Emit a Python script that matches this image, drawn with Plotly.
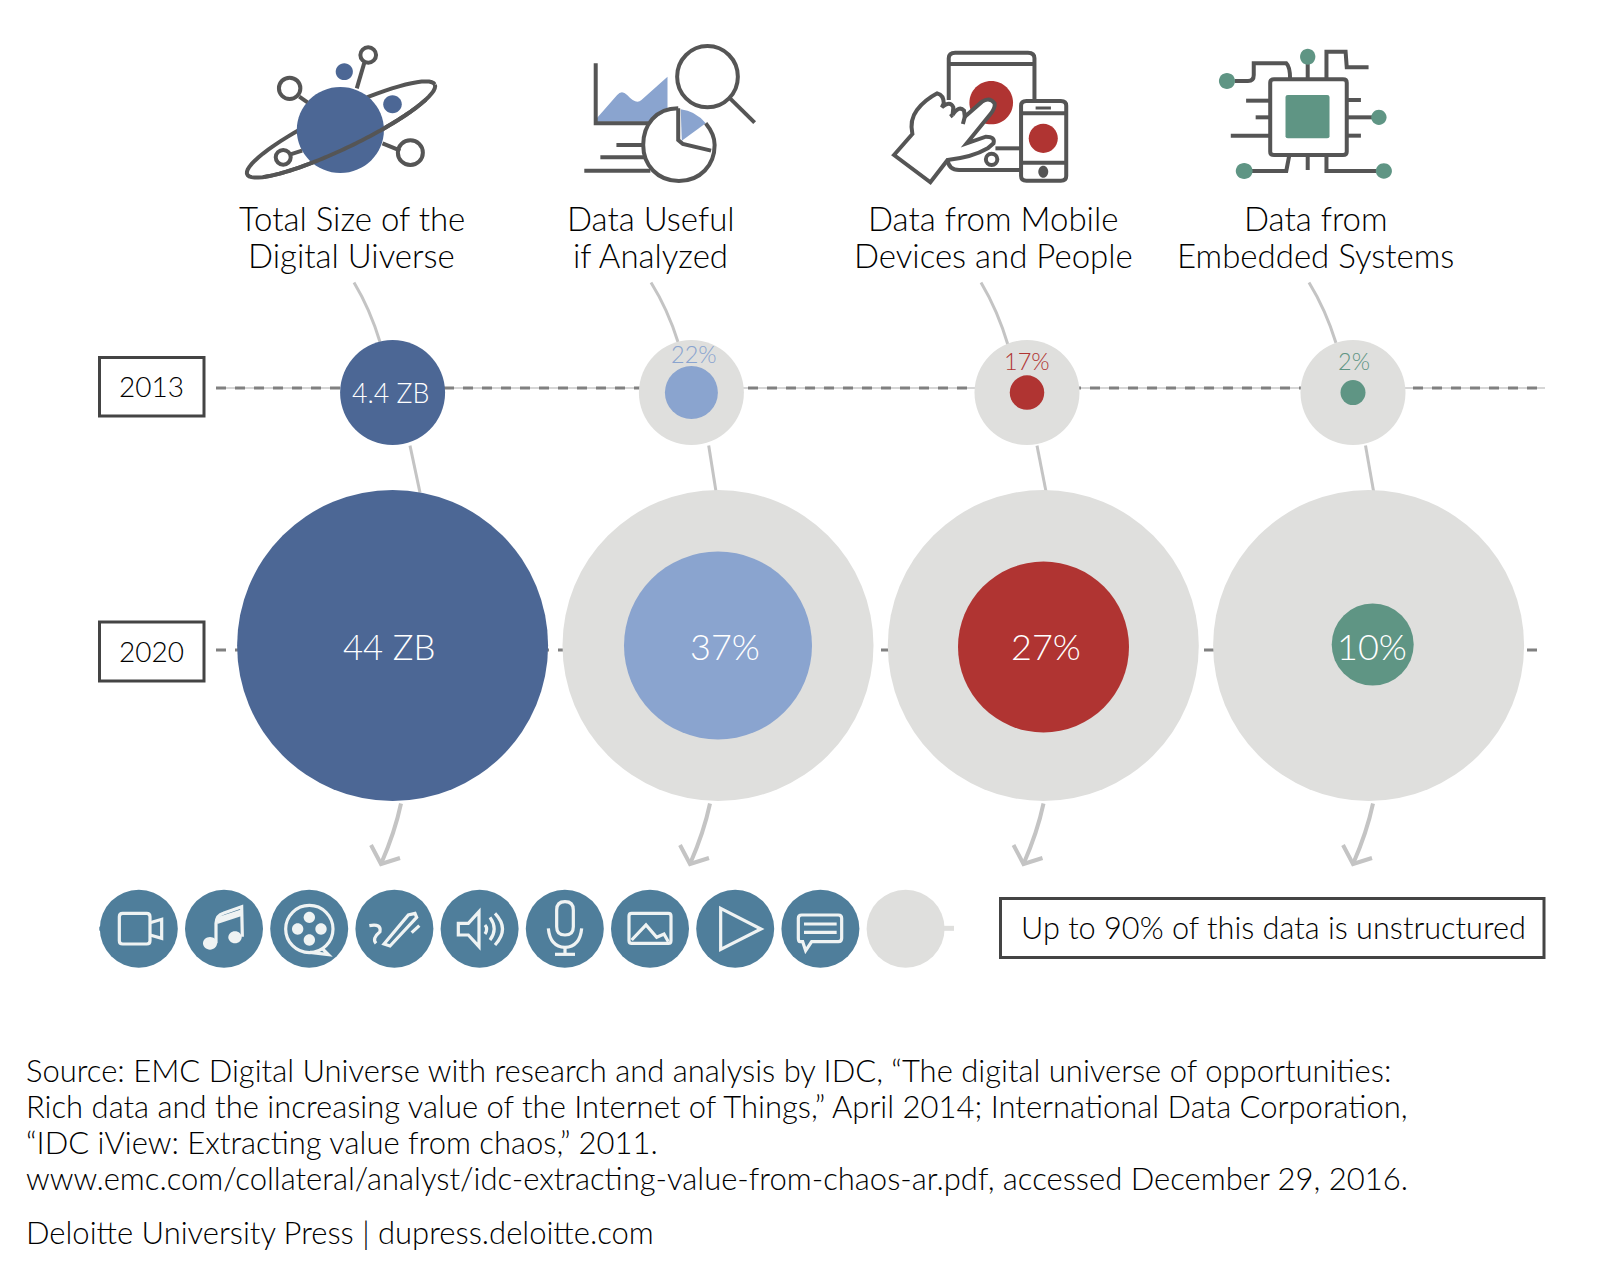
import re

import numpy as np
import plotly.graph_objects as go

# data
titles = [
    ["Total Size of the", "Digital Uiverse"],
    ["Data Useful", "if Analyzed"],
    ["Data from Mobile", "Devices and People"],
    ["Data from", "Embedded Systems"],
]
years = ["2013", "2020"]
size_zb = [4.4, 44]
share_2013 = [22, 17, 2]
share_2020 = [37, 27, 10]
note = "Up to 90% of this data is unstructured"
source_lines = [
    "Source: EMC Digital Universe with research and analysis by IDC, “The digital universe of opportunities:",
    "Rich data and the increasing value of the Internet of Things,” April 2014; International Data Corporation,",
    "“IDC iView: Extracting value from chaos,” 2011.",
    "www.emc.com/collateral/analyst/idc-extracting-value-from-chaos-ar.pdf, accessed December 29, 2016.",
]
credit = "Deloitte University Press | dupress.deloitte.com"

# layout of the page, in pixels
W, H = 1599, 1271
FONT = "Lato"
DARK = "#555555"
BOX = "#444444"
NAVY = "#4c6795"
LIGHT_BLUE = "#8aa4cf"
RED = "#b03432"
GREEN = "#5f9584"
GREY = "#dfdfdd"
TEAL = "#4f7e9b"
ICON_WHITE = "#eff3f3"
CONNECT = "#c4c4c4"
share_colors = [LIGHT_BLUE, RED, GREEN]

x_2013 = [392.6, 691.4, 1027, 1353]
x_2020 = [392.6, 718, 1043.3, 1368.6]
inner_x_2020 = [718, 1043.5, 1372.7]
inner_y_2020 = [645.5, 647, 644.5]
y_2013, y_2020 = 392.6, 645.5
inner_diam_2013 = [53, 34.5, 25]
inner_diam_2020 = [188, 171, 82]

CROP1 = (220, 20, 2.8, 3)
CROP2 = (850, 20, 2.613, 3)
CROP3 = (80, 860, 3, 3)
CROP4 = (560, 860, 3, 3)


def place(d, crop):
    ox, oy, sx, sy = crop
    i = [0]

    def conv(m):
        v = float(m.group())
        k = i[0]
        i[0] += 1
        return f"{ox + v / sx:.2f}" if k % 2 == 0 else f"{oy + v / sy:.2f}"

    return re.sub(r"-?\d+\.?\d*", conv, d)


def ell(cx, cy, rx, ry):
    k = 0.5523
    return (
        f"M {cx - rx} {cy} C {cx - rx} {cy - k * ry} {cx - k * rx} {cy - ry} {cx} {cy - ry} "
        f"C {cx + k * rx} {cy - ry} {cx + rx} {cy - k * ry} {cx + rx} {cy} "
        f"C {cx + rx} {cy + k * ry} {cx + k * rx} {cy + ry} {cx} {cy + ry} "
        f"C {cx - k * rx} {cy + ry} {cx - rx} {cy + k * ry} {cx - rx} {cy} Z"
    )


def rrect(x0, y0, x1, y1, r):
    return (
        f"M {x0 + r} {y0} L {x1 - r} {y0} Q {x1} {y0} {x1} {y0 + r} L {x1} {y1 - r} Q {x1} {y1} {x1 - r} {y1} "
        f"L {x0 + r} {y1} Q {x0} {y1} {x0} {y1 - r} L {x0} {y0 + r} Q {x0} {y0} {x0 + r} {y0} Z"
    )


fig = go.Figure()


def icon(d, crop=None, color=DARK, width=4, fill=None, layer="above"):
    if crop is not None:
        d = place(d, crop)
    fig.add_shape(
        type="path", path=d, xref="x", yref="y", layer=layer,
        line=dict(color=color, width=width),
        fillcolor=fill if fill else "rgba(0,0,0,0)",
    )


def solid(d, crop, fill):
    fig.add_shape(
        type="path", path=place(d, crop), xref="x", yref="y", layer="above",
        line=dict(width=0), fillcolor=fill,
    )


def label(text, x, y, size, color="#000000", anchor="center", weight=300):
    fig.add_annotation(
        x=x, y=y, text=text, showarrow=False, xref="x", yref="y",
        xanchor=anchor, yanchor="middle",
        font=dict(family=FONT, size=size, color=color, weight=weight),
    )


def ring_path(t0, t1, n=70):
    cx, cy, a, b, th = 341, 129.5, 104, 19, np.radians(-25.6)
    t = np.linspace(t0, t1, n)
    xs = cx + a * np.cos(t) * np.cos(th) - b * np.sin(t) * np.sin(th)
    ys = cy + a * np.cos(t) * np.sin(th) + b * np.sin(t) * np.cos(th)
    return "M " + " L ".join(f"{px:.2f} {py:.2f}" for px, py in zip(xs, ys))


# dashed year lines
fig.add_trace(go.Scatter(x=[216, 1545], y=[388, 388], mode="lines", hoverinfo="skip",
                         line=dict(color="#c8c8c8", width=1.5)))
fig.add_trace(go.Scatter(x=[216, 1545], y=[388, 388], mode="lines", hoverinfo="skip",
                         line=dict(color="#808080", width=3, dash="10px,9px")))
fig.add_trace(go.Scatter(x=[216, 1540], y=[650, 650], mode="lines", hoverinfo="skip",
                         line=dict(color="#808080", width=3, dash="10px,9px")))

# connectors and arrows
connect_top = [(354, 282.5, 380, 342), (651, 282.5, 678, 342), (981, 282.5, 1008, 345), (1309, 282.5, 1336, 343)]
connect_mid = [(410, 445.6, 420, 492.6), (708.7, 445.6, 716, 491.5), (1037, 445.6, 1046, 491.5),
               (1365.5, 445.6, 1373.6, 491.5)]
arrow_x = [401, 710, 1043.5, 1373]
for x0, y0, x1, y1 in connect_top + connect_mid:
    qx = (x0 + x1) / 2 + (x1 - x0) * 0.12 * (1 if y0 < 400 else -0.5)
    qy = (y0 + y1) / 2 - (y1 - y0) * 0.05
    icon(f"M {x0} {y0} Q {qx} {qy} {x1} {y1}", color=CONNECT, width=3, layer="below")
for x0 in arrow_x:
    x1, y1 = x0 - 20, 864
    icon(f"M {x0} 803.5 Q {x0 - 6} 832 {x1} {y1}", color=CONNECT, width=4, layer="below")
    icon(f"M {x1 - 10} {y1 - 19} L {x1} {y1} L {x1 + 19} {y1 - 6}", color=CONNECT, width=4, layer="below")

# bubbles
fig.add_trace(go.Scatter(
    x=x_2013[:1] + x_2020[:1], y=[y_2013, y_2020], mode="markers", hoverinfo="skip",
    marker=dict(color=NAVY, size=[105, 311], opacity=1, line=dict(width=0)),
))
fig.add_trace(go.Scatter(
    x=x_2013[1:], y=[y_2013] * 3, mode="markers", hoverinfo="skip",
    marker=dict(color=GREY, size=105, opacity=1, line=dict(width=0)),
))
fig.add_trace(go.Scatter(
    x=x_2020[1:], y=[y_2020] * 3, mode="markers", hoverinfo="skip",
    marker=dict(color=GREY, size=311, opacity=1, line=dict(width=0)),
))
fig.add_trace(go.Scatter(
    x=x_2013[1:], y=[y_2013] * 3, mode="markers", hoverinfo="skip",
    marker=dict(color=share_colors, size=inner_diam_2013, opacity=1, line=dict(width=0)),
))
fig.add_trace(go.Scatter(
    x=inner_x_2020, y=inner_y_2020, mode="markers", hoverinfo="skip",
    marker=dict(color=share_colors, size=inner_diam_2020, opacity=1, line=dict(width=0)),
))

# bottom row of media circles
row_x = [138.8 + 85.2 * i for i in range(10)]
fig.add_trace(go.Scatter(
    x=row_x, y=[928.7] * 10, mode="markers", hoverinfo="skip",
    marker=dict(color=[TEAL] * 9 + [GREY], size=78, opacity=1, line=dict(width=0)),
))
icon("M 1150 205 L 1182 205", CROP4, color=GREY, width=5)
icon("M 58 206 L 66 206", CROP3, color=TEAL, width=4)

# planet icon
icon(ring_path(0, 2 * np.pi))
solid(ell(337, 330, 122, 129), CROP1, NAVY)
icon(ring_path(0.17 * np.pi, 0.83 * np.pi))
solid(ell(348, 155, 24, 25), CROP1, NAVY)
solid(ell(483, 253, 26, 27), CROP1, NAVY)
for d in ["M 405 125 L 383 205", "M 222 230 L 245 247", "M 455 370 L 505 392", "M 197 403 L 230 392"]:
    icon(d, CROP1)
icon(ell(415, 105, 22, 23), CROP1)
icon(ell(195, 205, 30, 32), CROP1)
icon(ell(533, 398, 35, 37), CROP1)
icon(ell(177, 412, 21, 22), CROP1)

# analytics icon
solid("M 1055 295 L 1112 225 Q 1125 208 1140 225 Q 1165 255 1180 240 L 1253 170 L 1253 270 L 1205 305 L 1055 305 Z",
      CROP1, LIGHT_BLUE)
solid("M 1290 268 Q 1330 272 1360 310 L 1293 362 Z", CROP1, LIGHT_BLUE)
icon("M 1052 130 L 1052 310 L 1200 310", CROP1)
icon(ell(1365, 170, 85, 92), CROP1)
icon("M 1428 235 L 1497 308", CROP1)
icon("M 1283 265 C 1220 265 1185 315 1185 375 C 1185 435 1225 483 1285 483 C 1345 483 1385 435 1385 375 "
     "C 1385 350 1375 330 1360 310", CROP1)
icon("M 1283 265 L 1283 360 L 1296 372 L 1375 392", CROP1)
icon("M 1110 375 L 1185 375", CROP1)
icon("M 1065 412 L 1190 412", CROP1)
icon("M 1020 452 L 1205 452", CROP1)

# devices icon
icon("M 258 240 L 258 115 Q 258 98 275 98 L 465 98 Q 482 98 482 115 L 482 245", CROP2)
icon("M 258 132 L 482 132", CROP2)
icon("M 255 420 Q 258 450 285 450 L 447 450", CROP2)
icon("M 380 385 L 447 385", CROP2)
icon(ell(370, 418, 15, 17), CROP2)
solid(ell(369, 248, 57, 65), CROP2, RED)
icon(rrect(447, 243, 565, 482, 14), CROP2)
icon("M 447 280 L 565 280", CROP2)
icon("M 447 428 L 565 428", CROP2)
icon("M 485 264 L 525 264", CROP2, width=3)
solid(ell(505, 355, 38, 44), CROP2, RED)
solid(ell(505, 455, 13, 18), CROP2, DARK)
icon("M 115 405 L 163 342 Q 155 300 175 270 Q 195 240 228 220 Q 245 225 245 250 L 240 262 Q 262 240 270 262 L 268 285 "
     "Q 285 255 298 272 L 300 290 L 345 245 Q 365 230 378 250 Q 380 265 365 285 L 305 370 L 355 350 Q 380 350 375 370 "
     "L 360 385 Q 320 412 255 420 L 210 487 Z", CROP2, fill="#ffffff")
icon("M 268 285 L 262 290", CROP2)
icon("M 300 290 L 295 312", CROP2)

# chip icon
for d in [
    "M 1005 183 L 1040 183 Q 1055 183 1055 165 L 1055 130 L 1140 130 Q 1150 140 1150 178",
    "M 1196 130 L 1196 178",
    "M 1245 178 L 1245 95 L 1295 95 L 1298 142 L 1355 142",
    "M 1035 242 L 1098 242", "M 1060 292 L 1098 292", "M 995 347 L 1098 347",
    "M 1298 240 L 1335 240", "M 1298 292 L 1365 292", "M 1298 347 L 1335 347",
    "M 1050 453 L 1140 453 L 1148 405", "M 1196 405 L 1196 450", "M 1245 405 L 1245 453 L 1375 453",
]:
    icon(d, CROP2)
icon(rrect(1098, 178, 1298, 405, 10), CROP2)
solid(rrect(1138, 225, 1253, 355, 6), CROP2, GREEN)
for cx, cy, rx, ry in [(985, 183, 21, 24), (1196, 110, 20, 24), (1382, 292, 20, 23),
                       (1030, 453, 22, 24), (1395, 453, 21, 23)]:
    solid(ell(cx, cy, rx, ry), CROP2, GREEN)

# white glyphs in the media row
W_STROKE = dict(color=ICON_WHITE, width=3.2)
icon(rrect(118, 160, 210, 252, 10), CROP3, **W_STROKE)
icon("M 210 188 L 245 178 L 245 235 L 210 225", CROP3, **W_STROKE)
solid(ell(390, 250, 21, 19), CROP3, ICON_WHITE)
solid(ell(465, 232, 20, 18), CROP3, ICON_WHITE)
icon("M 408 250 L 408 190 Q 410 165 430 160 L 485 140 L 487 230", CROP3, **W_STROKE)
solid("M 412 172 L 485 148 L 485 168 L 412 192 Z", CROP3, ICON_WHITE)
icon(ell(688, 207, 71, 71), CROP3, **W_STROKE)
for cx, cy in [(688, 172), (723, 207), (688, 240), (653, 207)]:
    solid(ell(cx, cy, 17, 17), CROP3, ICON_WHITE)
icon("M 690 277 L 745 284 L 727 266", CROP3, **W_STROKE)
icon("M 912 252 L 985 165 L 1005 160 L 1010 172 L 930 258 Z", CROP3, **W_STROKE)
icon("M 868 197 Q 905 190 900 215 Q 875 235 888 250", CROP3, **W_STROKE)
icon("M 995 218 L 1018 197", CROP3, **W_STROKE)
icon("M 1135 190 L 1165 190 L 1197 155 L 1197 260 L 1165 225 L 1135 225 Z", CROP3, **W_STROKE)
icon("M 1215 195 Q 1225 207 1215 222", CROP3, **W_STROKE)
icon("M 1230 172 Q 1255 207 1230 240", CROP3, **W_STROKE)
icon("M 1245 160 Q 1290 207 1245 255", CROP3, **W_STROKE)
icon(rrect(1430, 125, 1480, 225, 25), CROP3, **W_STROKE)
icon("M 1405 205 Q 1410 260 1455 262 Q 1500 260 1505 205", CROP3, **W_STROKE)
icon("M 1455 262 L 1455 282", CROP3, **W_STROKE)
icon("M 1425 283 L 1485 283", CROP3, **W_STROKE)
icon(rrect(207, 160, 333, 250, 8), CROP4, **W_STROKE)
icon("M 215 240 L 258 195 L 290 232 L 312 222 L 325 245", CROP4, **W_STROKE)
icon("M 482 145 L 603 207 L 482 268 Z", CROP4, **W_STROKE)
icon("M 728 245 L 720 245 Q 715 245 715 235 L 715 175 Q 715 165 725 165 L 835 165 Q 845 165 845 175 "
     "L 845 235 Q 845 245 835 245 L 755 245 L 737 272 Z", CROP4, **W_STROKE)
icon("M 732 192 L 830 192", CROP4, **W_STROKE)
icon("M 732 217 L 830 217", CROP4, **W_STROKE)

# framed labels
for x0, y0, x1, y1 in [(99.5, 357.5, 204, 416), (99.5, 622, 204, 681), (1000.5, 898.5, 1544, 957.5)]:
    fig.add_shape(type="rect", x0=x0, y0=y0, x1=x1, y1=y1, xref="x", yref="y", layer="above",
                  line=dict(color=BOX, width=3), fillcolor="#ffffff")
label(years[0], 151, 385.5, 28)
label(years[1], 151, 650.5, 28)
label(note, 1273.7, 927, 30.7)

# titles
title_x = [351.8, 650.6, 993.3, 1315.5]
for cx, (l1, l2) in zip(title_x, titles):
    label(l1, cx, 217.5, 33)
    label(l2, cx, 255, 33)

# bubble labels
label(f"{size_zb[0]} ZB", 390, 393, 26.7, "#ffffff")
label(f"{size_zb[1]} ZB", 388.5, 646, 34.7, "#ffffff")
for cx, cy, v, c in zip([693.5, 1027, 1354], [354, 361, 361], share_2013, share_colors):
    label(f"{v}%", cx, cy, 23.5, c)
for cx, v in zip([725, 1046, 1372], share_2020):
    label(f"{v}%", cx, 646, 36, "#ffffff")

# footer
for y, line in zip([1070, 1106, 1142, 1178], source_lines):
    label(line, 24, y, 31, anchor="left")
label(credit, 24, 1232, 31, anchor="left")

fig.update_layout(
    width=W, height=H, margin=dict(l=0, r=0, t=0, b=0),
    paper_bgcolor="#ffffff", plot_bgcolor="#ffffff", showlegend=False,
    xaxis=dict(range=[0, W], visible=False, fixedrange=True),
    yaxis=dict(range=[H, 0], visible=False, fixedrange=True),
)

fig.write_html(
    "out.html",
    config={"displayModeBar": False},
    post_script="document.body.style.margin='0';document.body.style.fontVariantLigatures='none';",
)
